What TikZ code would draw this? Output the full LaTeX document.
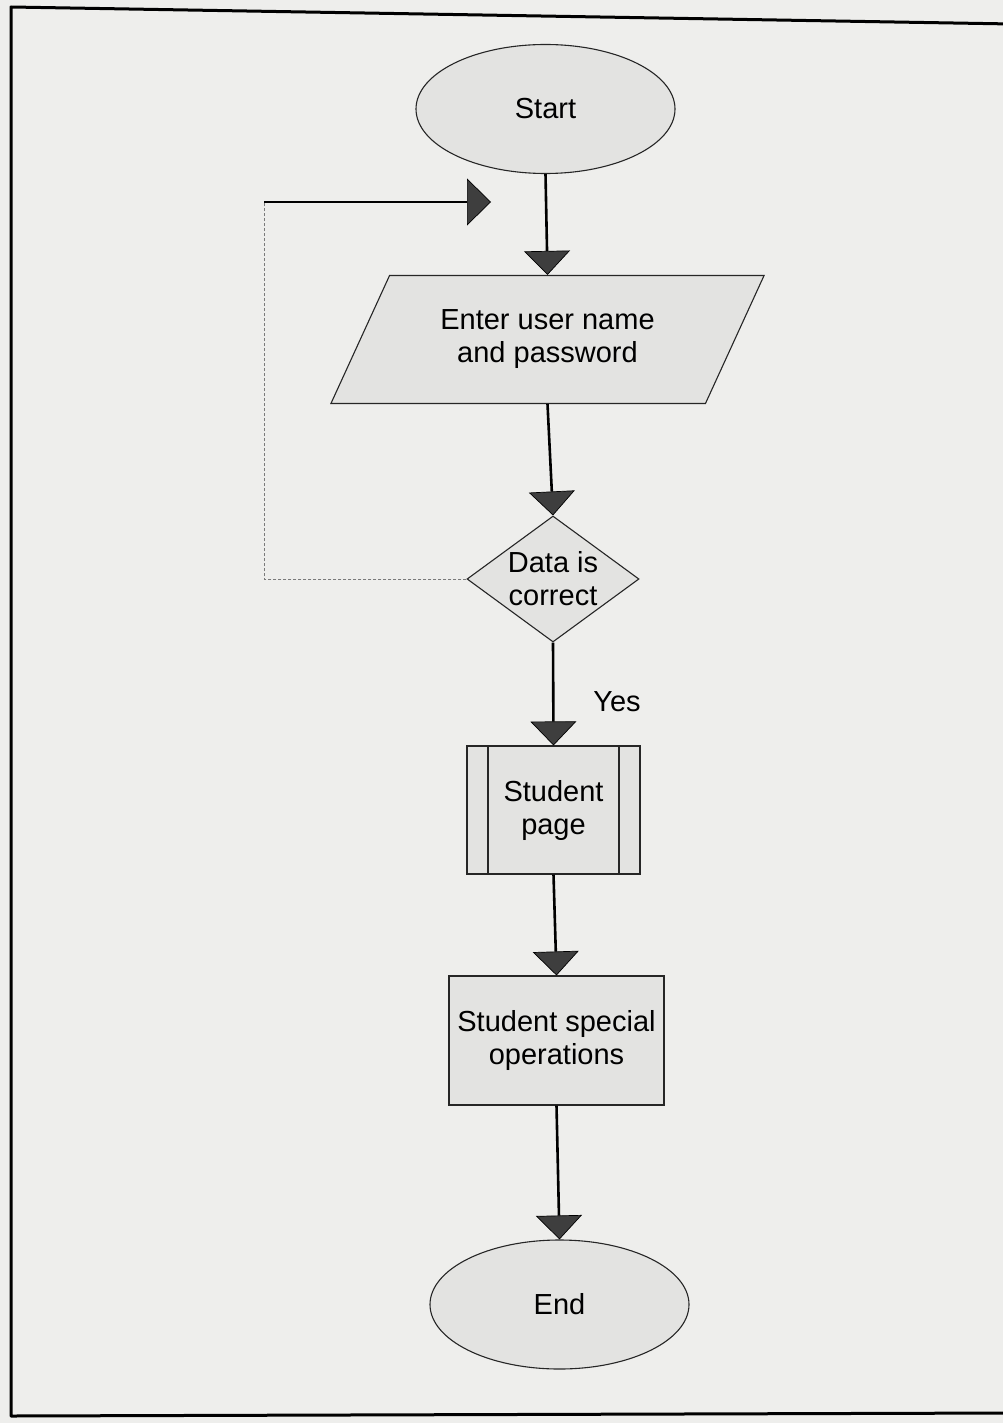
\documentclass[tikz,border=0pt]{standalone}
\usepackage{fontspec}
\setmainfont{Liberation Sans}
\usetikzlibrary{arrows.meta,shapes.geometric}

\definecolor{paper}{HTML}{EEEEEC}
\definecolor{boxfill}{HTML}{E3E3E1}
\definecolor{tipgray}{HTML}{3E3E3E}
\definecolor{loopgray}{HTML}{7A7A7A}

\tikzset{
  base/.style={draw=black!85, line width=1.1pt, fill=boxfill, inner sep=0pt,
    align=center, font=\fontsize{29}{33}\selectfont},
  terminal/.style={base, ellipse, minimum width=259pt, minimum height=129pt},
  inputbox/.style={base, trapezium, trapezium left angle=56, trapezium right angle=124,
    trapezium stretches=true, minimum width=435pt, minimum height=128pt},
  decision/.style={base, diamond, minimum width=172pt, minimum height=126pt},
  procbox/.style={base, rectangle, minimum width=215pt, minimum height=129pt},
  subproc/.style={base, rectangle, minimum width=173pt, minimum height=128pt,
    path picture={
      \draw[black!85, line width=1.1pt]
        ([xshift=21pt]path picture bounding box.north west) --
        ([xshift=21pt]path picture bounding box.south west)
        ([xshift=-21pt]path picture bounding box.north east) --
        ([xshift=-21pt]path picture bounding box.south east);}},
  flow/.style={line width=2.6pt,
    -{Triangle[length=24pt,width=46pt,fill=tipgray,line width=0.7pt]}},
  loopline/.style={loopgray, line width=1pt, dash pattern=on 3pt off 2pt},
  looparrow/.style={line width=2pt,
    -{Triangle[length=24pt,width=47pt,fill=tipgray,line width=0.7pt]}},
  frameline/.style={line width=3pt, line cap=round, line join=round},
  note/.style={font=\fontsize{29}{33}\selectfont}
}

\begin{document}
\begin{tikzpicture}[x=1pt, y=-1pt]
  % page
  \useasboundingbox (0,0) rectangle (1003,1423);
  \fill[paper] (0,0) rectangle (1003,1423);
  \draw[frameline] (1012,24) -- (11,7) -- (11,1416) -- (1012,1413);

  % flowchart shapes
  \node[terminal] (start) at (545.5,109) {Start};
  \node[inputbox] (login) at (547.5,339.5) {Enter user name\\and password};
  \node[decision, label={[note, align=center]center:Data is\\correct}] (check) at (553,579) {};
  \node[subproc] (page) at (553.5,810) {Student\\page};
  \node[procbox] (ops) at (556.5,1040.5) {Student special\\operations};
  \node[terminal] (finish) at (559.5,1304.5) {End};

  % retry loop
  \coordinate (loopbl) at (264,579);
  \coordinate (looptl) at (264,202);
  \coordinate (loopend) at (491,202);

  % connectors
  \draw[flow] (start.south) -- (login.north);
  \draw[flow] (login.south) -- (check.north);
  \draw[flow] (check.south) -- (page.north);
  \draw[flow] (page.south) -- (ops.north);
  \draw[flow] (ops.south) -- (finish.north);
  \draw[loopline] (check.west) -- (loopbl) -- (looptl);
  \draw[looparrow] (looptl) -- (loopend);

  \node[note] (yes) at (617,702) {Yes};
\end{tikzpicture}
\end{document}
